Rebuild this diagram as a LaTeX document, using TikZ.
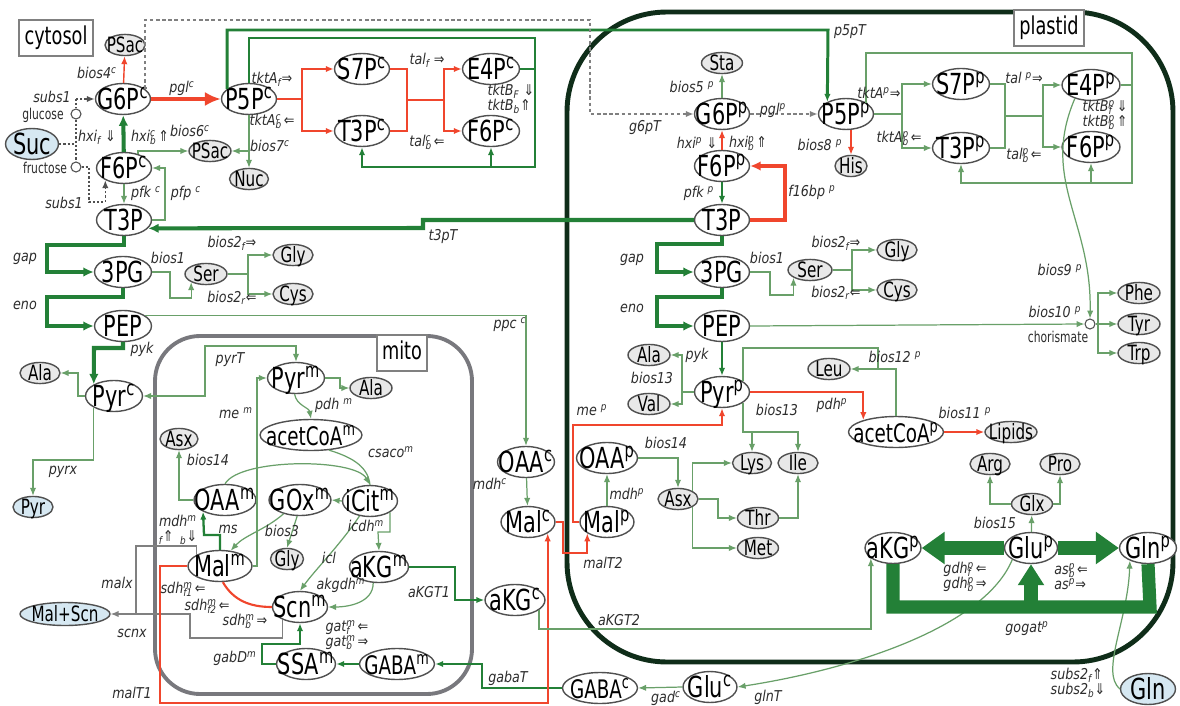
\documentclass[tikz,border=0pt]{standalone}
\usepackage{fontspec}
\setmainfont{DejaVu Sans}
\newfontfamily\metfont{DejaVu Sans}[FakeStretch=0.72]
\newfontfamily\labfont{DejaVu Sans Oblique}[FakeStretch=0.85]
\newfontfamily\arfont{DejaVu Sans}[FakeStretch=0.85]
\usetikzlibrary{arrows.meta, shapes.geometric}

\definecolor{grn}{RGB}{35,128,55}
\definecolor{lgrn}{RGB}{105,160,105}
\definecolor{rd}{RGB}{240,70,45}
\definecolor{edge}{RGB}{80,80,80}
\definecolor{sfill}{RGB}{232,232,232}
\definecolor{bfill}{RGB}{214,232,242}
\definecolor{plast}{RGB}{15,45,25}
\definecolor{mitoc}{RGB}{120,120,125}
\definecolor{labc}{RGB}{45,45,45}

\newcommand\bigf{\fontsize{16.5}{17}\metfont}
\newcommand\midf{\fontsize{14.5}{15}\metfont}
\newcommand\smf{\fontsize{12}{12}\metfont}
\newcommand\labf{\fontsize{8.5}{8.6}\labfont}
\newcommand\tinyf{\fontsize{8.5}{9}\metfont}
\newcommand\su[1]{\textsuperscript{#1}}
\newcommand\lo[1]{\textsubscript{#1}}
\newcommand\ssb[2]{\setbox0\hbox{\textsuperscript{#2}}\setbox2\hbox{\textsubscript{#1}}%
  \ifdim\wd0>\wd2 \rlap{\box2}\box0\else\rlap{\box0}\box2\fi\kern1pt}
\newcommand\ar[1]{{\arfont #1}}

\begin{document}
\begin{tikzpicture}[x=0.02cm, y=-0.02cm,
    met/.style={ellipse, draw=edge, line width=0.8pt, fill=white, inner sep=0pt,
        minimum width=#1, minimum height=0.62cm, text height=11.5pt, text depth=0pt,
        font=\bigf, execute at begin node={\hbox to 0pt\bgroup\hss},
        execute at end node={\hss\egroup}},
    met/.default=1.1cm,
    smet/.style={met=#1, fill=sfill, minimum height=0.42cm, text height=8.5pt, font=\smf},
    smet/.default=0.84cm,
    circ/.style={circle, draw=edge, fill=white, line width=0.6pt, inner sep=0pt, minimum size=0.2cm},
    box/.style={draw=gray, line width=0.9pt, fill=white, font=\fontsize{14}{14}\metfont,
        inner xsep=3pt, text height=10.5pt, text depth=3pt},
    lbl/.style={font=\labf, text=labc, inner sep=0pt},
    lbl2/.style={lbl, align=left, execute at begin node={\lineskiplimit=-10pt}},
    sug/.style={font=\tinyf, text=labc, inner sep=0pt},
    arr/.style={-{Latex[length=4.5pt,width=3.6pt]}},
    arrk/.style={-{Latex[length=6pt,width=5.5pt]}},
    gthin/.style={draw=lgrn, line width=0.7pt},
    gmed/.style={draw=grn, line width=1.3pt},
    gthk/.style={draw=grn, line width=2.3pt},
    rthin/.style={draw=rd, line width=0.8pt},
    rmed/.style={draw=rd, line width=1.2pt},
    rthk/.style={draw=rd, line width=2.6pt},
    dsh/.style={draw=gray, line width=1.1pt, dash pattern=on 2pt off 1.5pt},
    dotl/.style={draw=edge, line width=0.9pt, dash pattern=on 1.2pt off 1.2pt},
    gry/.style={draw=gray, line width=0.7pt},
    hugeg/.style={draw=grn, line width=7.5pt},
    bigtip/.style={-{Triangle[length=0.46cm,width=0.62cm]}}
]
\useasboundingbox[fill=white] (0,0) rectangle (1180,706);

% compartments
\draw[line width=2.8pt, draw=plast, rounded corners=2cm] (567,12) rectangle (1173,662);
\draw[line width=2.2pt, draw=mitoc, rounded corners=0.9cm] (155,336) rectangle (472,694);
\node[box] (cytlab) at (56,38) {cytosol};
\node[box] (plalab) at (1049,28) {plastid};
\node[box] (mitlab) at (402,353) {mito};

% cytosol
\node[smet=0.8cm] (cPSac1) at (125,45) {PSac};
\node[met] (cG6P) at (123,99) {G6P\su{c}};
\node[met] (cP5P) at (249,99) {P5P\su{c}};
\node[met] (cS7P) at (362,69) {S7P\su{c}};
\node[met] (cT3Pa) at (362,131) {T3P\su{c}};
\node[met=1.14cm] (cE4P) at (491,69) {E4P\su{c}};
\node[met=1.14cm] (cF6Pa) at (491,131) {F6P\su{c}};
\node[met=1.06cm, fill=bfill] (xSuc) at (32,144) {Suc};
\node[circ] (glc) at (76,114) {};
\node[circ] (fru) at (76,167) {};
\node[smet] (cPSac2) at (210,151) {PSac};
\node[smet=0.78cm] (cNuc) at (249,179) {Nuc};
\node[met] (cF6P) at (124,168) {F6P\su{c}};
\node[met] (cT3P) at (124,220) {T3P};
\node[met=1.14cm] (c3PG) at (123,272) {3PG};
\node[smet] (cSer) at (206,274) {Ser};
\node[smet=0.8cm] (cGly) at (293,255) {Gly};
\node[smet=0.8cm] (cCys) at (293,294) {Cys};
\node[met=1.14cm] (cPEP) at (123,326) {PEP};
\node[smet=0.8cm] (cAla) at (40,373) {Ala};
\node[met=1.14cm] (cPyr) at (114,396) {Pyr\su{c}};
\node[smet=0.8cm, fill=bfill] (xPyr) at (33,507) {Pyr};
\node[smet=1.8cm, fill=bfill, minimum height=0.46cm] (xMalScn) at (65,614) {Mal+Scn};

% mitochondrion
\node[met=1.14cm] (mPyr) at (296,378) {Pyr\su{m}};
\node[smet] (mAla) at (371,388) {Ala};
\node[met=2.04cm, font=\midf] (mAcCoA) at (311,435) {acetCoA\su{m}};
\node[smet=0.76cm] (mAsx) at (179,439) {Asx};
\node[met=1.24cm] (mOAA) at (225,500) {OAA\su{m}};
\node[met=1.24cm] (mGOx) at (300,500) {GOx\su{m}};
\node[met] (miCit) at (370,501) {iCit\su{m}};
\node[smet=0.66cm] (mGly) at (287,559) {Gly};
\node[met=1.28cm] (mMal) at (220,566) {Mal\su{m}};
\node[met=1.18cm] (maKG) at (379,567) {aKG\su{m}};
\node[met=1.1cm] (mScn) at (300,607) {Scn\su{m}};
\node[met=1.18cm] (mSSA) at (306,664) {SSA\su{m}};
\node[met=1.5cm, font=\midf] (mGABA) at (397,664) {GABA\su{m}};

% cytosol, middle
\node[met=1.14cm] (cOAA) at (526,462) {OAA\su{c}};
\node[met=1.08cm] (cMal) at (528,522) {Mal\su{c}};
\node[met=1.2cm] (caKG) at (515,600) {aKG\su{c}};
\node[met=1.5cm, font=\midf] (cGABA) at (600,688) {GABA\su{c}};
\node[met=1.08cm] (cGlu) at (710,687) {Glu\su{c}};

% plastid
\node[smet=0.82cm] (pSta) at (722,63) {Sta};
\node[met] (pG6P) at (722,114) {G6P\su{p}};
\node[met] (pP5P) at (846,114) {P5P\su{p}};
\node[smet=0.64cm] (pHis) at (851,166) {His};
\node[met] (pF6P) at (722,166) {F6P\su{p}};
\node[met] (pT3P) at (722,220) {T3P};
\node[met=1.14cm] (pS7P) at (961,84) {S7P\su{p}};
\node[met=1.14cm] (pT3Pa) at (961,148) {T3P\su{p}};
\node[met=1.16cm] (pE4P) at (1091,85) {E4P\su{p}};
\node[met=1.16cm] (pF6Pa) at (1091,147) {F6P\su{p}};
\node[met] (p3PG) at (722,272) {3PG};
\node[smet=0.88cm] (pSer) at (810,270) {Ser};
\node[smet=0.8cm] (pGly) at (897,250) {Gly};
\node[smet=0.8cm] (pCys) at (897,290) {Cys};
\node[met] (pPEP) at (722,326) {PEP};
\node[circ] (pchor) at (1090,324) {};
\node[smet] (pPhe) at (1139,293) {Phe};
\node[smet] (pTyr) at (1139,324) {Tyr};
\node[smet] (pTrp) at (1139,353) {Trp};
\node[smet] (pAla) at (649,355) {Ala};
\node[smet] (pVal) at (649,404) {Val};
\node[met=1.1cm] (pPyr) at (722,392) {Pyr\su{p}};
\node[smet] (pLeu) at (829,369) {Leu};
\node[met=1.9cm, font=\midf] (pAcCoA) at (896,432) {acetCoA\su{p}};
\node[smet=1.04cm] (pLipids) at (1011,432) {Lipids};
\node[met=1.22cm] (pOAA) at (607,458) {OAA\su{p}};
\node[smet=0.78cm] (pLys) at (752,463) {Lys};
\node[smet=0.8cm] (pIle) at (798,463) {Ile};
\node[smet=0.8cm] (pAsx) at (678,499) {Asx};
\node[smet=0.82cm] (pThr) at (758,518) {Thr};
\node[smet=0.82cm] (pMet) at (758,548) {Met};
\node[met=1.08cm] (pMal) at (607,522) {Mal\su{p}};
\node[smet=0.8cm] (pArg) at (990,464) {Arg};
\node[smet=0.8cm] (pPro) at (1060,464) {Pro};
\node[smet=0.82cm] (pGlx) at (1032,504) {Glx};
\node[met=1.12cm] (paKG) at (893,548) {aKG\su{p}};
\node[met=1.06cm] (pGlu) at (1031,548) {Glu\su{p}};
\node[met=1.14cm] (pGln) at (1148,548) {Gln\su{p}};
\node[met=1.1cm, fill=bfill] (xGln) at (1148,689) {Gln};

% cytosol: hexoses and pentose phosphate
\draw[dotl] (glc) -- (fru);
\draw[dotl] (glc |- cG6P) -- (glc.north);
\draw[dotl, arr] (glc |- cG6P) -- (cG6P.west);
\draw[dotl] (xSuc.east) -- (xSuc.east -| glc);
\draw[dotl, arr] (fru.east) -| (89,202) -| (cF6P.213);
\draw[rthin, arr] (cG6P) -- (cPSac1);
\draw[rthk, -{Latex[length=9pt,width=8pt]}] (cG6P) -- (cP5P);
\draw[gthk, arrk] (cF6P) -- (cG6P);
\draw[gthin, arr] (cF6P.45) |- (cPSac2.west);
\draw[gthin, arr] (cNuc |- cP5P.south) -- (cNuc.north);
\draw[gthin, arr] (cNuc |- cPSac2) -- (cPSac2.east);
\draw[rmed] (cP5P.east) -- (302,99) coordinate (cpp1);
\draw[rmed, arr] (cpp1) |- (cS7P.west);
\draw[rmed, arr] (cpp1) |- (cT3Pa.west);
\draw[rmed] (cS7P.east) -| (407,100) coordinate (cpp2) |- (cT3Pa.east);
\draw[rmed] (cpp2) -- (444,100) coordinate (cpp3);
\draw[rmed, arr] (cpp3) |- (cE4P.west);
\draw[rmed, arr] (cpp3) |- (cF6Pa.west);
\draw[gmed, arr] (cP5P.north) |- (535,38) coordinate (cpp4) -- (535,167) coordinate (cpp5) -| (cT3Pa.south);
\draw[gmed, arr] (cF6Pa |- cpp5) -- (cF6Pa.south);
\draw[gmed] (cE4P.east) -- (cE4P.east -| cpp4);
\draw[gmed, line width=1.7pt, arr] (cP5P.155) |- (828,30) -- (pP5P.147);
\draw[dsh, arr] (cG6P.25) |- (590,20) |- (pG6P.west);

% cytosol: glycolysis
\draw[gthin, arr] (cF6P) -- (cT3P);
\draw[gthin, arr] (cT3P.east) -| (165,190) |- (cF6P.east);
\draw[gthk, arrk] (cT3P.south) |- (47,245) |- (c3PG.west);
\draw[gthk, arrk] (c3PG.south) |- (47,297) |- (cPEP.west);
\draw[gthin, arr] (c3PG.east) -| (170,298) -| (cSer.209);
\draw[gthin] (cSer.east) -- (248,274) coordinate (cser);
\draw[gthin, arr] (cser) |- (cGly.west);
\draw[gthin, arr] (cser) |- (cCys.west);
\draw[gthk, arrk] (cPEP.south) |- (94,348) -- (cPyr.150);
\draw[gthin, arr] (cPEP.25) -| (cOAA.north);
\draw[gthin, arr] (cPyr.west) -| (78,380) |- (cAla.east);
\draw[gthin, {Latex[length=4.5pt,width=3.6pt]}-{Latex[length=4.5pt,width=3.6pt]}] (cPyr.east) -| (205,346) -| (mPyr.north);
\draw[gthin, arr] (cPyr.210) |- (60,460) -| (xPyr.north);
\draw[gthk, arrk] (pT3P.west) -- (423,220) -- (423,228) -- (cT3P.-19);

% mitochondrion
\draw[gthin, arr] (mMal.east) -| (257,470) |- (mPyr.west);
\draw[gthin, arr] (mPyr.east) -- (340,378) |- (mAla.west);
\draw[gthin, arr] (mPyr.-95) to[out=-80, in=100] (mAcCoA.north);
\draw[gthin, arr] (mOAA.west) -| (mAsx.south);
\draw[gmed, arr] (mMal.north) |- (204,535) -- (mOAA.208);
\draw[gthin, arr] (mOAA.north) .. controls (240,458) and (355,458) .. (miCit.north);
\draw[gthin] (mAcCoA.-40) .. controls (355,458) and (368,468) .. (miCit.north);
\draw[gthin, arr] (miCit.west) -- (mGOx.east);
\draw[gthin, arr] (miCit.-125) .. controls (340,545) and (315,570) .. (mScn.north);
\draw[gthin, arr] (mGOx.-100) -- (mGly.north);
\draw[gthin, arr] (mGOx.-140) .. controls (265,530) and (245,535) .. (mMal.55);
\draw[gthin, arr] (miCit.-30) |- (378,532) -- (maKG.north);
\draw[gthin, arr] (maKG.-110) to[out=-90, in=0] (mScn.east);
\draw[rmed] (mScn.west) to[out=180, in=-60] (mMal.-80);
\draw[gmed, arr] (mSSA.west) -| (262,644) -| (mScn.south);
\draw[gmed, arr] (mGABA.west) -- (mSSA.east);
\draw[gmed, arr] (cGABA.west) -| (482,664) -- (mGABA.east);
\draw[gmed, arr] (maKG.east) -| (455,600) -- (caKG.west);
\draw[gry, arr] (mScn.215) |- (190,638) |- (xMalScn.east);
\draw[gry] (mMal.155) |- (136,546) -- (136,614);
\draw[rmed, arr] (mMal.west) -| (160,703) -| (cMal.-30);

% cytosol, middle
\draw[gthin, arr] (cOAA) -- (cMal);
\draw[rmed, arr] (cMal.east) -| (563,553) -| (pMal.210);
\draw[rmed, arr] (pMal.west) -| (573,425) -| (pPyr.south);
\draw[gthin, arr] (caKG.-23) |- (700,629) -| (paKG.205);
\draw[gthin, arr] (cGlu.west) -- (cGABA.east);
\draw[gthin, arr] (pGlu.-148) .. controls (985,625) and (860,668) .. (cGlu.east);
\draw[gthin, arr] (xGln.west) .. controls (1100,672) and (1128,620) .. (pGln.-145);

% plastid: hexoses and pentose phosphate
\draw[gthin, arr] (pG6P) -- (pSta);
\draw[dsh, arr] (pG6P) -- (pP5P);
\draw[rthin, arr] (pF6P) -- (pG6P);
\draw[gmed, arr] (pF6P) -- (pT3P);
\draw[rthk, arrk] (pT3P.east) -| (785,190) |- (pF6P.east);
\draw[rthin, arr] (pHis |- pP5P.south) -- (pHis.north);
\draw[gthin] (pP5P.east) -- (902,114) coordinate (ppp1);
\draw[gthin, arr] (ppp1) |- (pS7P.west);
\draw[gthin, arr] (ppp1) |- (pT3Pa.west);
\draw[gthin] (pS7P.east) -| (1005,116) coordinate (ppp2) |- (pT3Pa.east);
\draw[gthin] (ppp2) -- (1043,116) coordinate (ppp3);
\draw[gthin, arr] (ppp3) |- (pE4P.west);
\draw[gthin, arr] (ppp3) |- (pF6Pa.west);
\draw[gthin, arr] (pP5P.30) |- (1132,53) -- (1132,183) coordinate (ppp4) -| (pT3Pa.south);
\draw[gthin, arr] (pF6Pa |- ppp4) -- (pF6Pa.south);
\draw[gthin] (pE4P.east) -- (pE4P.east -| ppp4);

% plastid: glycolysis and amino acids
\draw[gthk, arrk] (pT3P.south) |- (657,244) |- (p3PG.west);
\draw[gthk, arrk] (p3PG.south) |- (657,297) |- (pPEP.west);
\draw[gthin, arr] (p3PG.east) -| (770,295) -| (pSer.205);
\draw[gthin] (pSer.east) -- (852,270) coordinate (pser);
\draw[gthin, arr] (pser) |- (pGly.west);
\draw[gthin, arr] (pser) |- (pCys.west);
\draw[gthin, arr] (pPEP.east) -- (pchor.west);
\draw[gthin, arr] (pE4P.220) .. controls (1040,180) and (1092,220) .. (pchor.north);
\draw[gthin] (pchor.east) -- (1098,324) coordinate (pch);
\draw[gthin, arr] (pch) |- (pPhe.west);
\draw[gthin, arr] (pch) -- (pTyr.west);
\draw[gthin, arr] (pch) |- (pTrp.west);
\draw[gmed, arr] (pPEP) -- (pPyr);
\draw[gthin] (pPyr.west) -- (682,392) coordinate (pav);
\draw[gthin, arr] (pav) |- (pAla.east);
\draw[gthin, arr] (pav) |- (pVal.east);
\draw[rmed, arr] (pPyr.east) -| (pAcCoA.160);
\draw[rmed, arr] (pAcCoA) -- (pLipids);
\draw[gthin, arr] (pPyr.27) |- (878,348) |- (pLeu.east);
\draw[gthin] (pAcCoA.north) |- (878,369);
\draw[gthin, arr] (pPyr.-27) |- (798,432) coordinate (pli) -- (pIle.north);
\draw[gthin, arr] (pLys |- pli) -- (pLys.north);
\draw[gthin, arr] (pMal) -- (pOAA);
\draw[gthin, arr] (pOAA.east) -| (pAsx.north);
\draw[gthin, arr] (pAsx.28) |- (pLys.west);
\draw[gthin, arr] (pAsx.-28) |- (pMet.west);
\draw[gthin, arr] (pAsx.east) -| (718,518) -- (pThr.west);
\draw[gthin, arr] (pThr.east) -| (pIle.south);

% plastid: nitrogen
\draw[hugeg, bigtip] (pGlu.west) -- (paKG.east);
\draw[hugeg, bigtip] (pGlu.east) -- (pGln.west);
\draw[hugeg] (paKG.south) |- (1150,607) -- (pGln.south);
\draw[hugeg, -{Triangle[length=0.42cm,width=0.5cm]}] (pGlu |- 0,607) -- (pGlu.south);
\draw[gthin, arr] (pGlu) -- (pGlx);
\draw[gthin, arr] (pGlx.west) -| (pArg.south);
\draw[gthin, arr] (pGlx.east) -| (pPro.south);

% reaction labels, cytosol
\node[lbl] (lsubs1a) at (52,97) {subs1};
\node[sug] (lglc) at (43,115) {glucose};
\node[sug] (lfru) at (45,168) {fructose};
\node[lbl] (lsubs1b) at (64,203) {subs1};
\node[lbl] (lbios4) at (97,73) {bios4\su{c}};
\node[lbl] (lpglc) at (182,88) {pgl\su{c}};
\node[lbl] (lhxif) at (97,137) {hxi\lo{f} \ar{⇓}};
\node[lbl] (lhxib) at (150,137) {hxi\ssb{b}{c}\ar{⇑}};
\node[lbl] (lbios6) at (190,131) {bios6\su{c}};
\node[lbl] (lbios7) at (270,146) {bios7\su{c}};
\node[lbl] (ltktAf) at (272,79) {tktA\lo{f}\ar{⇒}};
\node[lbl] (ltktAb) at (272,121) {tktA\ssb{b}{c}\ar{⇐}};
\node[lbl] (ltalf) at (427,60) {tal\lo{f} \ar{⇒}};
\node[lbl] (ltalb) at (427,142) {tal\ssb{b}{c}\ar{⇐}};
\node[lbl2] (ltktB) at (511,99) {tktB\lo{F} \ar{⇓}\\tktB\lo{b}\ar{⇑}};
\node[lbl] (lpfk) at (146,193) {pfk \su{c}};
\node[lbl] (lpfp) at (186,193) {pfp \su{c}};
\node[lbl] (lt3pT) at (443,237) {t3pT};
\node[lbl] (lgap) at (25,259) {gap};
\node[lbl] (leno) at (25,305) {eno};
\node[lbl] (lbios1) at (168,258) {bios1};
\node[lbl] (lbios2f) at (232,243) {bios2\lo{f}\ar{⇒}};
\node[lbl] (lbios2r) at (232,298) {bios2\lo{r}\ar{⇐}};
\node[lbl] (lpyk) at (142,349) {pyk};
\node[lbl] (lppc) at (510,325) {ppc \su{c}};
\node[lbl] (lpyrT) at (230,360) {pyrT};
\node[lbl] (lpyrx) at (63,472) {pyrx};
\node[lbl] (lmdhc) at (490,484) {mdh\su{c}};
\node[lbl] (lmalT2) at (603,563) {malT2};
\node[lbl] (laKGT2) at (619,620) {aKGT2};
\node[lbl] (lgad) at (666,698) {gad\su{c}};
\node[lbl] (lglnT) at (768,697) {glnT};
\node[lbl] (lgabaT) at (508,678) {gabaT};
\node[lbl] (laKGT1) at (429,592) {aKGT1};
\node[lbl] (lmalT1) at (132,693) {malT1};
\node[lbl] (lmalx) at (117,583) {malx};
\node[lbl] (lscnx) at (132,633) {scnx};

% reaction labels, mitochondrion
\node[lbl] (lmem) at (236,413) {me \su{m}};
\node[lbl] (lpdhm) at (334,405) {pdh \su{m}};
\node[lbl] (lcsaco) at (391,452) {csaco\su{m}};
\node[lbl] (lbios14m) at (208,460) {bios14};
\node[lbl2, align=center] (lmdhm) at (178,530) {mdh\su{m}\\\lo{f}\ar{⇑} \,\lo{b}\ar{⇓}};
\node[lbl] (lms) at (228,529) {ms};
\node[lbl] (lbios3) at (282,531) {bios3};
\node[lbl] (licl) at (329,558) {icl};
\node[lbl] (licdh) at (366,526) {icdh\su{m}};
\node[lbl] (lakgdh) at (341,585) {akgdh\su{m}};
\node[lbl] (lsdhf1) at (183,589) {sdh\ssb{f1}{m}\ar{⇐}};
\node[lbl] (lsdhf2) at (207,606) {sdh\ssb{f2}{m}\ar{⇐}};
\node[lbl] (lsdhb) at (245,621) {sdh\ssb{b}{m}\ar{⇒}};
\node[lbl2] (lgat) at (347,635) {gat\ssb{f}{m}\ar{⇐}\\gat\ssb{b}{m}\ar{⇒}};
\node[lbl] (lgabD) at (235,658) {gabD\su{m}};

% reaction labels, plastid
\node[lbl] (lp5pT) at (850,32) {p5pT};
\node[lbl] (lg6pT) at (645,128) {g6pT};
\node[lbl] (lbios5) at (692,87) {bios5 \su{p}};
\node[lbl] (lpglp) at (773,110) {pgl\su{p}};
\node[lbl] (lhxifp) at (697,143) {hxi\su{p} \ar{⇓}};
\node[lbl] (lhxibp) at (748,143) {hxi\ssb{b}{p}\ar{⇑}};
\node[lbl] (lbios8) at (820,145) {bios8 \su{p}};
\node[lbl] (lpfkp) at (699,193) {pfk \su{p}};
\node[lbl] (lf16bp) at (812,192) {f16bp \su{p}};
\node[lbl] (ltktAfp) at (879,93) {tktA\su{p}\ar{⇒}};
\node[lbl] (ltktAbp) at (899,138) {tktA\ssb{b}{p}\ar{⇐}};
\node[lbl] (ltalfp) at (1024,78) {tal \su{p}\ar{⇒}};
\node[lbl] (ltalbp) at (1024,155) {tal\ssb{b}{p}\ar{⇐}};
\node[lbl2] (ltktBp) at (1105,115) {tktB\ssb{f}{p}\ar{⇓}\\tktB\ssb{b}{p}\ar{⇑}};
\node[lbl] (lgapp) at (632,260) {gap};
\node[lbl] (lenop) at (632,308) {eno};
\node[lbl] (lbios1p) at (767,258) {bios1};
\node[lbl] (lbios2fp) at (836,243) {bios2\lo{f}\ar{⇒}};
\node[lbl] (lbios2rp) at (836,293) {bios2\lo{r}\ar{⇐}};
\node[lbl] (lbios9) at (1060,270) {bios9 \su{p}};
\node[lbl] (lbios10) at (1055,312) {bios10 \su{p}};
\node[sug] (lchor) at (1058,337) {chorismate};
\node[lbl] (lpykp) at (697,355) {pyk};
\node[lbl] (lbios13a) at (652,378) {bios13};
\node[lbl] (lmep) at (592,410) {me \su{p}};
\node[lbl] (lbios13b) at (777,410) {bios13};
\node[lbl] (lpdhp) at (832,405) {pdh\su{p}};
\node[lbl] (lbios12) at (895,357) {bios12 \su{p}};
\node[lbl] (lbios11) at (965,413) {bios11 \su{p}};
\node[lbl] (lbios14p) at (666,443) {bios14};
\node[lbl] (lmdhp) at (627,494) {mdh\su{p}};
\node[lbl] (lbios15) at (995,523) {bios15};
\node[lbl2] (lgdh) at (965,577) {gdh\ssb{f}{p}\ar{⇐}\\gdh\ssb{b}{p}\ar{⇒}};
\node[lbl2] (las) at (1071,577) {as\ssb{b}{p}\ar{⇐}\\as\su{p}\ar{⇒}};
\node[lbl] (lgogat) at (1027,629) {gogat\su{p}};
\node[lbl2] (lsubs2) at (1078,683) {subs2\lo{f}\ar{⇑}\\subs2\lo{b}\ar{⇓}};
\end{tikzpicture}
\end{document}
